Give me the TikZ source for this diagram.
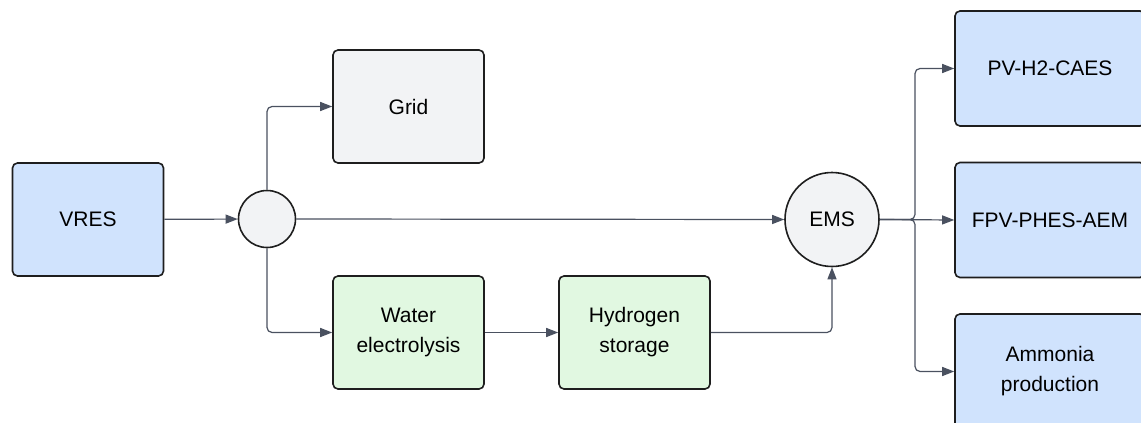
\documentclass[tikz,border=0pt]{standalone}
\usepackage{fontspec}
\setmainfont{Liberation Sans}
\usetikzlibrary{arrows.meta}
\definecolor{bluefill}{HTML}{D0E3FD}
\definecolor{greenfill}{HTML}{E1F8E1}
\definecolor{greyfill}{HTML}{F2F3F5}
\definecolor{edgecol}{HTML}{1E1E1E}
\definecolor{linecol}{HTML}{4A5160}
\tikzset{
  boxbase/.style={draw=edgecol, line width=1.6pt, rounded corners=5pt, minimum width=151pt, minimum height=113pt, align=center, font=\fontsize{21}{30}\selectfont, inner sep=0pt},
  bluebox/.style={boxbase, fill=bluefill},
  greenbox/.style={boxbase, fill=greenfill},
  greybox/.style={boxbase, fill=greyfill},
  hub/.style={draw=edgecol, line width=1.6pt, circle, fill=greyfill, inner sep=0pt, font=\fontsize{21}{30}\selectfont},
  conn/.style={draw=linecol, line width=1.2pt, rounded corners=5pt, -{Triangle[length=12pt,width=9pt]}}
}
\begin{document}
\begin{tikzpicture}[x=1pt,y=-1pt]
\useasboundingbox (0,0) rectangle (1141,423);
\clip (0,0) rectangle (1141,423);
\fill[white] (0,0) rectangle (1141,423);
\node[bluebox] (vres) at (88,219.5) {VRES};
\node[hub, minimum size=57pt] (j) at (267,219) {};
\node[greybox] (grid) at (408.5,106.5) {Grid};
\node[greenbox] (we) at (408.5,332.5) {Water\\electrolysis};
\node[greenbox] (hs) at (634.5,332.5) {Hydrogen\\storage};
\node[hub, minimum size=94pt] (ems) at (832,219.5) {EMS};
\node[bluebox, minimum width=190pt, minimum height=115pt] (pv) at (1050,68.5) {PV-H2-CAES};
\node[bluebox, minimum width=190pt, minimum height=115pt] (fpv) at (1050,220) {FPV-PHES-AEM};
\node[bluebox, minimum width=190pt, minimum height=115pt] (amm) at (1050,371.5) {Ammonia\\production};
\coordinate (split) at (915,219.5);
\draw[conn] (vres) -- (j);
\draw[conn] (j.north) |- (grid.west);
\draw[conn] (j.south) |- (we.west);
\draw[conn] (j.east) -- (ems.west);
\draw[conn] (we) -- (hs);
\draw[conn] (hs.east) -| (ems.south);
\draw[conn] (ems.east) -- (split) |- (pv.west);
\draw[conn] (ems.east) -- (fpv.west);
\draw[conn] (ems.east) -- (split) |- (amm.west);
\end{tikzpicture}
\end{document}
